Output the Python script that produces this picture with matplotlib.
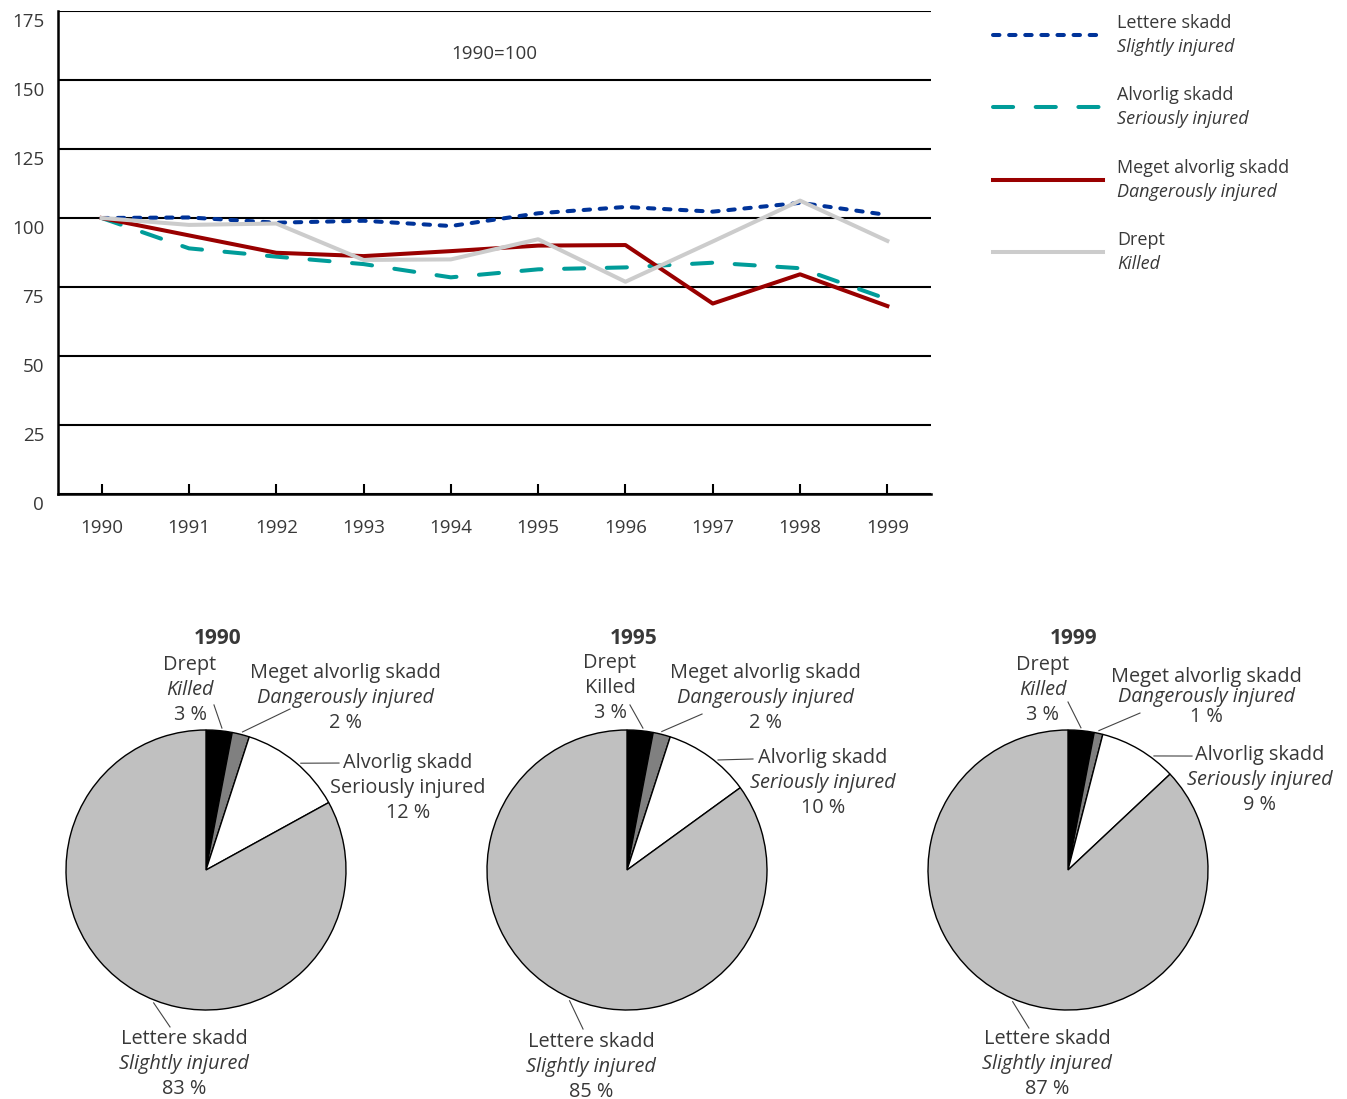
import numpy as np
import matplotlib
matplotlib.use("Agg")
import matplotlib.pyplot as plt
from matplotlib.lines import Line2D
import matplotlib.transforms as mtransforms

plt.rcParams['font.family'] = ['Open Sans', 'DejaVu Sans']

W, H = 1347, 1099
TXT = '#383838'

# ---- data: index, 1990 = 100 ----
years = [1990, 1991, 1992, 1993, 1994, 1995, 1996, 1997, 1998, 1999]
slightly = [100, 100.2, 98.3, 99.0, 97.1, 101.7, 104.0, 102.3, 105.5, 101.1]
seriously = [100, 89.0, 86.0, 83.3, 78.5, 81.4, 82.1, 83.8, 81.8, 70.6]
dangerously = [100, 93.7, 87.4, 86.2, 88.0, 90.0, 90.2, 69.0, 79.6, 68.1]
killed = [100, 97.5, 98.0, 84.8, 85.0, 92.3, 76.9, 91.5, 106.3, 91.7]

series_no = ['Lettere skadd', 'Alvorlig skadd', 'Meget alvorlig skadd', 'Drept']
series_en = ['Slightly injured', 'Seriously injured', 'Dangerously injured', 'Killed']

# ---- data: shares in percent ----
pie_years = ['1990', '1995', '1999']
pie_killed = [3, 3, 3]
pie_dangerous = [2, 2, 1]
pie_serious = [12, 10, 9]
pie_slight = [83, 85, 87]
pie_colors = ['black', '#808080', 'white', '#c0c0c0']


def px(x, y):
    return x / W, 1 - y / H


fig = plt.figure(figsize=(W / 100, H / 100), dpi=100)

# ================= line chart =================
x0, y0 = px(58, 494)
x1, y1 = px(931, 11)
ax = fig.add_axes([x0, y0, x1 - x0, y1 - y0])

styles = [
    dict(color='#003399', lw=2.9, dashes=(1.6, 2.4), dash_capstyle='round'),
    dict(color='#009c99', lw=2.9, dashes=(5.0, 5.6), dash_capstyle='round'),
    dict(color='#990000', lw=2.9),
    dict(color='#cccccc', lw=2.9),
]
for vals, st in zip([slightly, seriously, dangerously, killed], styles):
    ax.plot(years, vals, **st)

ax.set_xlim(1989.5, 1999.5)
ax.set_ylim(0, 175)
ax.set_yticks(range(0, 176, 25))
ax.set_xticks(years)
ax.grid(axis='y', color='black', lw=1.5)
ax.set_axisbelow(True)
for s in ['top', 'right']:
    ax.spines[s].set_visible(False)
for s in ['left', 'bottom']:
    ax.spines[s].set_linewidth(1.8)
ax.tick_params(axis='y', length=0, pad=10, labelsize=13.5, labelcolor=TXT)
ax.tick_params(axis='x', direction='in', length=7, width=1.5, pad=18,
               labelsize=13.5, labelcolor=TXT)
shift = mtransforms.ScaledTranslation(0, -9 / 100, fig.dpi_scale_trans)
for lab in ax.get_yticklabels():
    lab.set_transform(lab.get_transform() + shift)
ax.text(0.5, 0.911, '1990=100', transform=ax.transAxes, ha='center',
        va='center', fontsize=13.5, color=TXT)

# ---- legend ----
leg_y = [35, 107, 180, 252]
for name, en, st, ly in zip(series_no, series_en, styles, leg_y):
    fx0, fy = px(993, ly)
    fx1, _ = px(1103, ly)
    fig.add_artist(Line2D([fx0, fx1], [fy, fy], transform=fig.transFigure, **st))
    tx, ty1 = px(1117, ly - 12)
    _, ty2 = px(1117, ly + 12)
    fig.text(tx, ty1, name, ha='left', va='center', fontsize=13, color=TXT)
    fig.text(tx, ty2, en, ha='left', va='center', fontsize=13, color=TXT,
             style='italic')

# ================= pies =================
R = 140.0
centers = [206, 627, 1068]
# per label: anchor angle, leader end, text centre, italic second line, line gap px
layouts = [
    [(83.6, (0.057, 1.179), (-0.114, 1.286), True, 25),
     (75.2, (0.60, 1.15), (0.993, 1.229), True, 25),
     (48.4, (0.95, 0.764), (1.443, 0.586), False, 25),
     (248.5, (-0.257, -1.121), (-0.157, -1.386), True, 25)],
    [(83.6, (0.021, 1.179), (-0.121, 1.30), False, 25),
     (75.9, (0.536, 1.114), (0.986, 1.229), True, 25),
     (50.4, (0.90, 0.793), (1.40, 0.621), True, 25),
     (246.3, (-0.314, -1.136), (-0.257, -1.404), True, 25)],
    [(84.8, (0.0, 1.20), (-0.179, 1.286), True, 25),
     (77.5, (0.514, 1.121), (0.986, 1.236), True, 20),
     (53.0, (0.886, 0.814), (1.371, 0.643), True, 25),
     (247.2, (-0.279, -1.129), (-0.15, -1.386), True, 25)],
]
title_dx = [0.086, 0.05, 0.043]

aw, ah = 420, 420
for i, cx in enumerate(centers):
    cy = 870
    ax0, ay0 = px(cx - aw / 2, cy + ah / 2)
    pax = fig.add_axes([ax0, ay0, aw / W, ah / H])
    shares = [pie_killed[i], pie_dangerous[i], pie_serious[i], pie_slight[i]]
    pax.pie(shares, colors=pie_colors, startangle=90, counterclock=False,
            radius=1, wedgeprops=dict(edgecolor='black', linewidth=1.0))
    pax.set_xlim(-aw / 2 / R, aw / 2 / R)
    pax.set_ylim(-ah / 2 / R, ah / 2 / R)
    pax.set_aspect('equal')
    pax.axis('off')
    pax.text(title_dx[i], 1.657, pie_years[i], ha='center', va='center',
             fontsize=15, fontweight='bold', color=TXT)
    for k, (ang, end, tpos, ital, gap) in enumerate(layouts[i]):
        a = np.deg2rad(ang)
        pax.plot([1.02 * np.cos(a), end[0]], [1.02 * np.sin(a), end[1]],
                 color='#444444', lw=0.8, clip_on=False)
        pct = f'{shares[k]} %'
        lines = [(series_no[3 - k], 'normal', gap),
                 (series_en[3 - k], 'italic' if ital else 'normal', 0),
                 (pct, 'normal', -gap)]
        for txt, sty, off in lines:
            pax.annotate(txt, xy=tpos, xytext=(0, off * 0.72),
                         textcoords='offset points', ha='center',
                         va='center', fontsize=14.3, color=TXT, style=sty,
                         annotation_clip=False)

fig.savefig('out.png', dpi=100)
